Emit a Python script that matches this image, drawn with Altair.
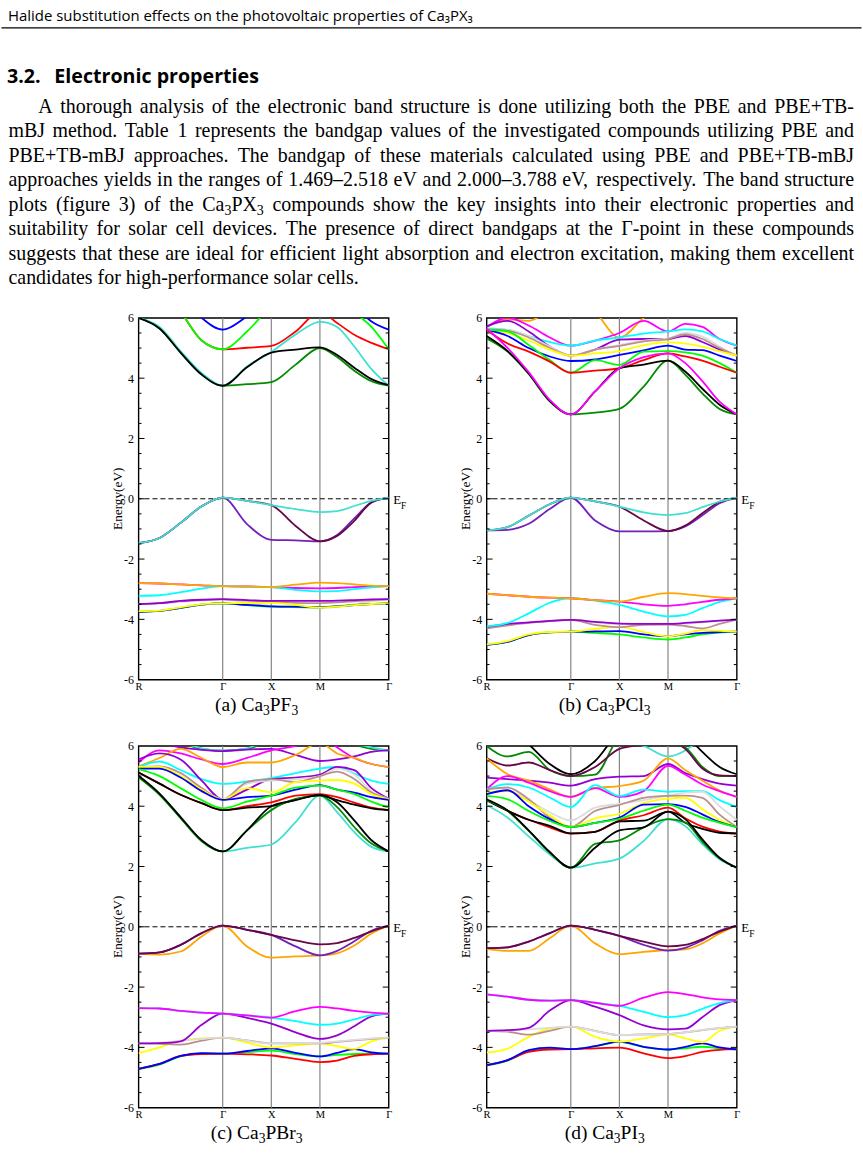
import re
import altair as alt
import pandas as pd

# ---------------------------------------------------------------------------
# k-path sample positions along R-Γ-X-M-Γ (units of 2π/a) and their labels
K = [0.0, 0.433, 0.866, 1.299, 1.732, 2.232, 2.732, 3.232, 3.732, 4.086, 4.439, 4.793, 5.146]
K_SYM = [0.0, 1.732, 2.732, 3.732, 5.146]
K_SYM_LABELS = ["R", "Γ", "X", "M", "Γ"]
K_INNER = [1.732, 2.732, 3.732]

# energy ticks (eV)
E_LABELS = [-6, -4, -2, 0, 2, 4, 6]
E_MAJOR = [-4, -2, 0, 2, 4]
E_MINOR = [-5.5, -5, -4.5, -3.5, -3, -2.5, -1.5, -1, -0.5,
           0.5, 1, 1.5, 2.5, 3, 3.5, 4.5, 5, 5.5]

# xmgrace palette
BLK = "#000000"; RED = "#ff0000"; GRN = "#00ff00"; BLU = "#0000ff"
YEL = "#ffff00"; BRN = "#bc8f8f"; GRY = "#dcdcdc"; VIO = "#9400d3"
CYN = "#00ffff"; MAG = "#ff00ff"; ORN = "#ffa500"; IND = "#7221bc"
MAR = "#670748"; TRQ = "#40e0d0"; DGR = "#008b00"

# ---------------------------------------------------------------------------
# Band energies (eV) at the K sample points, listed in drawing order
A_BANDS = [
    (GRY, [-3.49, -3.47, -3.42, -3.38, -3.34, -3.45, -3.55, -3.6, -3.63, -3.58, -3.5, -3.4, -3.34]),
    (BRN, [-3.49, -3.46, -3.39, -3.36, -3.34, -3.38, -3.42, -3.45, -3.46, -3.44, -3.4, -3.36, -3.34]),
    (GRN, [-3.75, -3.72, -3.62, -3.51, -3.47, -3.53, -3.58, -3.59, -3.6, -3.56, -3.52, -3.49, -3.47]),
    (BLU, [-3.75, -3.72, -3.62, -3.51, -3.47, -3.52, -3.57, -3.58, -3.6, -3.57, -3.53, -3.49, -3.47]),
    (YEL, [-3.73, -3.71, -3.6, -3.5, -3.47, -3.46, -3.45, -3.52, -3.61, -3.58, -3.53, -3.49, -3.47]),
    (VIO, [-3.49, -3.46, -3.39, -3.35, -3.33, -3.36, -3.39, -3.39, -3.39, -3.38, -3.36, -3.34, -3.33]),
    (MAG, [-2.8, -2.81, -2.84, -2.87, -2.9, -2.91, -2.93, -2.96, -2.97, -2.96, -2.93, -2.91, -2.9]),
    (CYN, [-3.22, -3.2, -3.1, -2.98, -2.9, -2.92, -2.93, -3.02, -3.07, -3.06, -3.0, -2.94, -2.9]),
    (ORN, [-2.8, -2.81, -2.84, -2.87, -2.9, -2.91, -2.92, -2.85, -2.78, -2.8, -2.84, -2.88, -2.9]),
    (IND, [-1.47, -1.3, -0.8, -0.25, 0.04, -0.84, -1.36, -1.38, -1.41, -1.2, -0.65, -0.12, 0.04]),
    (MAR, [-1.47, -1.3, -0.8, -0.25, 0.04, -0.07, -0.21, -0.9, -1.41, -1.23, -0.73, -0.12, 0.04]),
    (TRQ, [-1.47, -1.3, -0.8, -0.25, 0.04, -0.07, -0.21, -0.34, -0.44, -0.41, -0.24, -0.07, 0.04]),
    (BLU, [7.5, 7.2, 6.8, 6.0, 5.61, 6.05, 6.6, 7.0, 7.0, 6.8, 6.4, 5.88, 5.61]),
    (RED, [7.5, 7.0, 6.2, 5.25, 4.96, 5.01, 5.07, 5.55, 6.2, 5.83, 5.44, 5.17, 4.96]),
    (GRN, [7.5, 7.0, 6.2, 5.25, 4.96, 5.55, 6.4, 7.0, 7.0, 6.8, 6.2, 5.7, 4.96]),
    (DGR, [6.0, 5.65, 4.85, 4.12, 3.75, 3.8, 3.87, 4.45, 5.0, 4.7, 4.25, 3.9, 3.75]),
    (TRQ, [6.0, 5.7, 4.9, 4.17, 3.75, 4.39, 4.87, 5.45, 5.87, 5.7, 5.05, 4.3, 3.75]),
    (BLK, [6.0, 5.65, 4.85, 4.12, 3.75, 4.36, 4.85, 4.95, 5.02, 4.77, 4.35, 3.97, 3.77]),
]

B_BANDS = [
    (GRN, [-4.85, -4.75, -4.52, -4.43, -4.41, -4.45, -4.5, -4.6, -4.67, -4.6, -4.5, -4.44, -4.41]),
    (BLU, [-4.85, -4.75, -4.52, -4.43, -4.41, -4.4, -4.39, -4.5, -4.56, -4.5, -4.45, -4.42, -4.41]),
    (YEL, [-4.83, -4.72, -4.5, -4.42, -4.41, -4.32, -4.25, -4.42, -4.56, -4.47, -4.36, -4.38, -4.41]),
    (GRY, [-4.3, -4.2, -4.12, -4.06, -4.02, -4.1, -4.16, -4.16, -4.16, -4.14, -4.1, -4.05, -4.01]),
    (BRN, [-4.3, -4.2, -4.12, -4.06, -4.02, -4.18, -4.26, -4.18, -4.17, -4.22, -4.3, -4.15, -4.01]),
    (VIO, [-4.25, -4.15, -4.1, -4.05, -4.02, -4.08, -4.14, -4.15, -4.15, -4.12, -4.08, -4.04, -4.01]),
    (CYN, [-4.23, -4.12, -3.8, -3.45, -3.3, -3.38, -3.52, -3.74, -3.9, -3.85, -3.63, -3.42, -3.3]),
    (MAG, [-3.15, -3.2, -3.25, -3.28, -3.3, -3.36, -3.41, -3.5, -3.55, -3.5, -3.42, -3.35, -3.3]),
    (ORN, [-3.15, -3.2, -3.25, -3.28, -3.3, -3.36, -3.41, -3.25, -3.13, -3.16, -3.22, -3.27, -3.3]),
    (IND, [-1.05, -1.03, -0.83, -0.34, 0.04, -0.72, -1.08, -1.08, -1.07, -0.92, -0.55, -0.15, 0.04]),
    (MAR, [-1.05, -0.94, -0.56, -0.18, 0.04, -0.09, -0.26, -0.72, -1.07, -0.89, -0.48, -0.1, 0.04]),
    (TRQ, [-1.05, -0.94, -0.56, -0.18, 0.04, -0.09, -0.26, -0.45, -0.54, -0.48, -0.28, -0.09, 0.04]),
    (ORN, [5.7, 5.95, 5.9, 6.3, 6.8, 6.2, 5.35, 6.0, 6.6, 6.5, 6.1, 6.4, 6.8]),
    (MAG, [5.7, 6.0, 5.75, 5.35, 5.08, 5.25, 5.5, 5.9, 5.55, 5.8, 5.7, 5.3, 5.08]),
    (CYN, [5.65, 5.6, 5.4, 5.2, 5.08, 5.25, 5.35, 5.48, 5.55, 5.62, 5.55, 5.3, 5.08]),
    (VIO, [5.72, 5.9, 5.55, 5.05, 4.75, 4.95, 5.28, 5.3, 5.3, 5.4, 5.2, 4.95, 4.75]),
    (GRY, [5.62, 5.6, 5.4, 5.05, 4.75, 4.95, 5.1, 5.25, 5.32, 5.5, 5.38, 5.05, 4.75]),
    (BRN, [5.62, 5.58, 5.35, 5.0, 4.75, 4.95, 5.07, 5.22, 5.3, 5.45, 5.3, 5.0, 4.75]),
    (YEL, [5.6, 5.5, 5.25, 4.95, 4.75, 4.82, 4.9, 5.1, 5.2, 5.15, 5.05, 4.9, 4.75]),
    (BLU, [5.6, 5.4, 5.0, 4.72, 4.57, 4.62, 4.77, 4.92, 5.08, 4.95, 4.93, 4.75, 4.57]),
    (GRN, [5.6, 5.55, 5.1, 4.6, 4.18, 4.6, 4.44, 4.88, 4.9, 4.86, 4.75, 4.5, 4.18]),
    (RED, [5.6, 5.15, 4.88, 4.55, 4.18, 4.25, 4.33, 4.6, 4.82, 4.72, 4.58, 4.38, 4.18]),
    (DGR, [5.32, 4.88, 4.14, 3.23, 2.8, 2.86, 2.98, 3.72, 4.58, 4.12, 3.5, 2.98, 2.8]),
    (BLK, [5.4, 4.9, 4.16, 3.25, 2.8, 3.56, 4.33, 4.45, 4.58, 4.22, 3.65, 3.12, 2.8]),
    (MAG, [5.65, 5.0, 4.2, 3.28, 2.8, 3.56, 4.33, 4.7, 4.82, 4.5, 3.9, 3.22, 2.8]),
]

C_BANDS = [
    (GRN, [-4.72, -4.57, -4.3, -4.2, -4.21, -4.16, -4.11, -4.22, -4.3, -4.25, -4.22, -4.21, -4.21]),
    (RED, [-4.71, -4.55, -4.28, -4.22, -4.21, -4.23, -4.27, -4.38, -4.49, -4.44, -4.28, -4.23, -4.21]),
    (BLU, [-4.71, -4.55, -4.28, -4.19, -4.21, -4.12, -4.03, -4.18, -4.3, -4.18, -4.06, -4.17, -4.21]),
    (YEL, [-4.19, -4.0, -3.78, -3.7, -3.68, -3.84, -4.0, -3.93, -3.87, -3.96, -4.05, -3.8, -3.68]),
    (BRN, [-3.87, -3.88, -3.91, -3.78, -3.68, -3.77, -3.87, -3.87, -3.87, -3.82, -3.77, -3.72, -3.68]),
    (GRY, [-3.87, -3.85, -3.78, -3.72, -3.68, -3.78, -3.87, -3.86, -3.85, -3.8, -3.75, -3.7, -3.68]),
    (VIO, [-3.87, -3.86, -3.8, -3.25, -2.88, -3.02, -3.21, -3.5, -3.72, -3.6, -3.3, -2.97, -2.88]),
    (CYN, [-2.7, -2.71, -2.79, -2.85, -2.88, -2.94, -3.01, -3.13, -3.25, -3.21, -3.07, -2.93, -2.88]),
    (MAG, [-2.7, -2.71, -2.79, -2.85, -2.88, -2.94, -3.01, -2.8, -2.66, -2.71, -2.79, -2.85, -2.88]),
    (ORN, [-0.89, -0.92, -0.82, -0.32, 0.04, -0.65, -1.02, -0.98, -0.95, -0.88, -0.62, -0.22, 0.04]),
    (IND, [-0.89, -0.85, -0.6, -0.21, 0.04, -0.1, -0.27, -0.65, -0.95, -0.8, -0.48, -0.13, 0.04]),
    (MAR, [-0.89, -0.85, -0.6, -0.21, 0.04, -0.1, -0.27, -0.45, -0.58, -0.54, -0.37, -0.15, 0.04]),
    (DGR, [6.5, 6.3, 6.1, 5.9, 5.84, 5.9, 6.2, 6.4, 6.5, 6.3, 6.05, 5.9, 5.85]),
    (TRQ, [6.6, 6.4, 6.15, 5.92, 5.84, 5.92, 6.3, 6.5, 6.6, 6.35, 6.1, 5.95, 5.85]),
    (VIO, [6.3, 6.1, 5.95, 5.87, 5.83, 5.88, 5.9, 5.7, 5.5, 5.55, 5.65, 5.8, 5.85]),
    (MAG, [5.45, 5.85, 5.75, 5.55, 5.4, 5.6, 5.85, 6.0, 6.3, 5.95, 5.6, 5.4, 5.3]),
    (ORN, [5.32, 5.6, 5.9, 5.6, 5.3, 5.45, 5.45, 5.7, 6.1, 5.75, 5.6, 5.4, 5.3]),
    (CYN, [5.3, 5.48, 5.2, 4.9, 4.74, 4.82, 4.93, 5.1, 5.25, 5.3, 5.08, 4.85, 4.74]),
    (VIO, [5.55, 5.75, 5.55, 4.85, 4.23, 4.55, 4.9, 4.95, 5.05, 5.3, 5.2, 4.6, 4.25]),
    (GRY, [5.3, 5.3, 5.1, 4.6, 4.23, 4.75, 4.85, 4.9, 5.0, 5.25, 5.05, 4.5, 4.25]),
    (BRN, [5.3, 5.32, 5.1, 4.6, 4.23, 4.8, 4.9, 4.8, 5.0, 5.15, 4.9, 4.45, 4.25]),
    (YEL, [5.3, 5.3, 5.0, 4.55, 4.23, 4.6, 4.46, 4.8, 4.85, 4.87, 4.75, 4.4, 4.23]),
    (BLU, [5.25, 5.25, 4.95, 4.5, 4.21, 4.3, 4.35, 4.55, 4.7, 4.55, 4.45, 4.3, 4.21]),
    (GRN, [5.23, 5.0, 4.6, 4.2, 3.93, 4.15, 4.35, 4.62, 4.68, 4.55, 4.4, 4.15, 3.95]),
    (RED, [5.12, 4.75, 4.38, 4.1, 3.87, 4.0, 4.13, 4.35, 4.4, 4.3, 4.12, 3.95, 3.87]),
    (BLK, [5.12, 4.75, 4.38, 4.1, 3.87, 3.95, 4.0, 4.22, 4.37, 4.2, 4.05, 3.93, 3.87]),
    (TRQ, [5.0, 4.4, 3.62, 2.85, 2.5, 2.62, 2.73, 3.47, 4.35, 3.8, 3.14, 2.65, 2.5]),
    (DGR, [4.96, 4.38, 3.6, 2.84, 2.5, 3.2, 3.87, 4.24, 4.35, 3.97, 3.31, 2.76, 2.5]),
    (BLK, [5.01, 4.42, 3.64, 2.87, 2.5, 3.2, 4.0, 4.2, 4.37, 4.13, 3.53, 2.87, 2.5]),
]

D_BANDS = [
    (GRN, [-4.6, -4.44, -4.12, -4.03, -4.06, -3.97, -3.82, -3.99, -4.07, -4.03, -3.98, -4.03, -4.07]),
    (RED, [-4.59, -4.42, -4.15, -4.07, -4.06, -4.03, -4.01, -4.2, -4.36, -4.29, -4.15, -4.08, -4.06]),
    (BLU, [-4.59, -4.42, -4.09, -4.01, -4.06, -3.96, -3.81, -3.98, -4.07, -3.98, -3.87, -4.0, -4.07]),
    (YEL, [-4.17, -4.04, -3.65, -3.38, -3.31, -3.65, -3.81, -3.7, -3.58, -3.7, -3.83, -3.45, -3.31]),
    (BRN, [-3.45, -3.48, -3.58, -3.45, -3.31, -3.45, -3.59, -3.57, -3.56, -3.5, -3.43, -3.36, -3.31]),
    (GRY, [-3.45, -3.44, -3.4, -3.35, -3.31, -3.46, -3.59, -3.58, -3.56, -3.5, -3.42, -3.36, -3.31]),
    (VIO, [-3.45, -3.43, -3.35, -2.78, -2.43, -2.65, -2.93, -3.27, -3.4, -3.38, -3.0, -2.6, -2.43]),
    (CYN, [-2.24, -2.32, -2.42, -2.45, -2.43, -2.52, -2.62, -2.82, -3.0, -2.93, -2.72, -2.53, -2.43]),
    (MAG, [-2.24, -2.32, -2.42, -2.45, -2.43, -2.52, -2.62, -2.35, -2.17, -2.23, -2.34, -2.41, -2.43]),
    (ORN, [-0.73, -0.8, -0.8, -0.38, 0.04, -0.55, -0.91, -0.83, -0.77, -0.75, -0.55, -0.22, 0.04]),
    (IND, [-0.71, -0.68, -0.49, -0.21, 0.04, -0.1, -0.3, -0.6, -0.79, -0.7, -0.45, -0.13, 0.04]),
    (MAR, [-0.71, -0.68, -0.49, -0.21, 0.04, -0.1, -0.3, -0.49, -0.65, -0.6, -0.41, -0.16, 0.04]),
    (BLK, [7.0, 6.6, 6.05, 5.4, 5.06, 5.5, 6.5, 7.0, 7.0, 6.4, 5.8, 5.3, 5.06]),
    (TRQ, [7.0, 7.0, 7.0, 7.0, 7.0, 6.5, 6.2, 6.0, 5.65, 5.85, 6.3, 7.0, 7.0]),
    (DGR, [6.0, 5.65, 5.8, 5.2, 5.0, 5.05, 6.3, 6.6, 6.1, 5.95, 5.3, 5.0, 5.0]),
    (MAR, [5.6, 5.35, 5.45, 5.2, 5.0, 5.3, 5.9, 6.05, 6.2, 5.9, 5.25, 5.02, 5.0]),
    (VIO, [4.95, 4.9, 4.85, 4.78, 4.68, 4.9, 4.98, 5.0, 5.4, 5.1, 4.9, 4.75, 4.68]),
    (ORN, [5.59, 5.06, 4.85, 4.56, 4.31, 4.6, 4.67, 4.85, 5.59, 5.2, 4.85, 4.52, 4.31]),
    (MAG, [4.56, 5.0, 4.78, 4.5, 4.31, 4.6, 4.31, 4.5, 5.34, 5.05, 4.72, 4.5, 4.31]),
    (CYN, [4.56, 4.73, 4.62, 4.29, 3.97, 4.7, 4.34, 4.55, 4.48, 4.5, 4.5, 4.2, 3.97]),
    (GRY, [4.45, 4.52, 4.2, 3.8, 3.53, 3.95, 4.08, 4.2, 4.35, 4.45, 4.48, 4.0, 3.55]),
    (BRN, [4.56, 4.62, 4.23, 3.62, 3.31, 3.84, 4.04, 4.28, 4.34, 4.35, 4.28, 3.72, 3.31]),
    (YEL, [4.45, 4.5, 4.15, 3.7, 3.31, 3.6, 3.75, 4.1, 4.25, 4.28, 3.9, 3.55, 3.31]),
    (BLU, [4.4, 4.53, 4.0, 3.57, 3.31, 3.45, 3.62, 4.05, 4.07, 3.98, 3.73, 3.47, 3.31]),
    (GRN, [4.34, 4.23, 3.84, 3.51, 3.31, 3.45, 3.58, 3.85, 4.05, 3.85, 3.62, 3.45, 3.31]),
    (RED, [4.2, 3.85, 3.55, 3.3, 3.09, 3.15, 3.52, 3.7, 3.95, 3.6, 3.32, 3.16, 3.09]),
    (BLK, [4.2, 3.85, 3.55, 3.35, 3.1, 3.15, 3.5, 3.52, 3.82, 3.45, 3.25, 3.12, 3.1]),
    (TRQ, [4.04, 3.62, 3.0, 2.4, 1.96, 2.1, 2.26, 2.85, 3.57, 3.34, 2.74, 2.24, 1.96]),
    (DGR, [4.2, 3.84, 3.18, 2.46, 1.96, 2.75, 2.87, 3.3, 3.57, 3.46, 2.82, 2.27, 1.96]),
    (BLK, [4.23, 3.86, 3.2, 2.48, 1.96, 2.62, 3.2, 3.3, 3.82, 3.57, 2.9, 2.29, 1.96]),
]

CAPTIONS = ["(a) Ca_{3}PF_{3}", "(b) Ca_{3}PCl_{3}", "(c) Ca_{3}PBr_{3}", "(d) Ca_{3}PI_{3}"]

HEADER = "Halide substitution effects on the photovoltaic properties of Ca₃PX₃"
SECTION_NUM = "3.2."
SECTION_TITLE = "Electronic properties"
PARAGRAPH = [
    "A thorough analysis of the electronic band structure is done utilizing both the PBE and PBE+TB-",
    "mBJ method. Table 1 represents the bandgap values of the investigated compounds utilizing PBE and",
    "PBE+TB-mBJ approaches. The bandgap of these materials calculated using PBE and PBE+TB-mBJ",
    "approaches yields in the ranges of 1.469–2.518 eV and 2.000–3.788 eV, respectively. The band structure",
    "plots (figure 3) of the Ca_{3}PX_{3} compounds show the key insights into their electronic properties and",
    "suitability for solar cell devices. The presence of direct bandgaps at the Γ-point in these compounds",
    "suggests that these are ideal for efficient light absorption and electron excitation, making them excellent",
    "candidates for high-performance solar cells.",
]

# ---------------------------------------------------------------------------
# Layout constants (pixels)
W, H = 251, 363                 # plot area of each panel
COL_GAP, ROW_GAP = 98.3, 66.5   # distance between plot areas
OX, OY = 137.5, 316             # page position of the first panel's plot area
PAGE_W, PAGE_H = 863, 1155
SERIF = "Liberation Serif"
SANS = "Open Sans"
BODY = 20.0                     # body text size
SUB = 0.7                       # subscript scale

# Times-compatible advance widths (1/1000 em), used to justify serif lines
TW = {" ": 250, "(": 333, ")": 333, "+": 564, ",": 250, "-": 333, ".": 250,
      ":": 278, "–": 500, "Γ": 578}
TW.update({d: 500 for d in "0123456789"})
TW.update(dict(zip("ABCDEFGHIJKLMNOPQRSTUVWXYZ",
                   [722, 667, 667, 722, 611, 556, 722, 722, 333, 389, 722, 611, 889,
                    722, 722, 556, 722, 667, 556, 611, 722, 722, 944, 722, 722, 611])))
TW.update(dict(zip("abcdefghijklmnopqrstuvwxyz",
                   [444, 500, 444, 500, 444, 333, 500, 500, 278, 278, 500, 278, 778,
                    500, 500, 500, 500, 333, 389, 278, 500, 500, 722, 500, 500, 444])))


def seg_width(text, size):
    return sum(TW.get(ch, 500) for ch in text) * size / 1000.0


def parse_word(word):
    segs = []
    for part in re.split(r"(_\{[^}]*\})", word):
        if not part:
            continue
        if part.startswith("_{"):
            segs.append((part[2:-1], True))
        else:
            segs.append((part, False))
    return segs


def word_width(segs, size):
    return sum(seg_width(t, size * SUB if sub else size) for t, sub in segs)


def place_word(rows, segs, x, y, size):
    for t, sub in segs:
        s = size * SUB if sub else size
        rows.append({"t": t, "x": x, "y": y + (0.22 * size if sub else 0.0), "s": s})
        x += seg_width(t, s)


def layout_line(rows, text, x0, x1, y, size, justify):
    words = [parse_word(w) for w in text.split(" ")]
    widths = [word_width(w, size) for w in words]
    if justify and len(words) > 1:
        gap = (x1 - x0 - sum(widths)) / (len(words) - 1)
    else:
        gap = TW[" "] * size / 1000.0
    x = x0
    for segs, wd in zip(words, widths):
        place_word(rows, segs, x, y, size)
        x += wd + gap


def layout_centered(rows, text, cx, y, size):
    words = [parse_word(w) for w in text.split(" ")]
    total = sum(word_width(w, size) for w in words) + TW[" "] * size / 1000.0 * (len(words) - 1)
    layout_line(rows, text, cx - total / 2.0, cx + total / 2.0, y, size, False)


def text_layer(rows, font, weight="normal"):
    return alt.Chart(pd.DataFrame(rows)).mark_text(
        font=font, fontWeight=weight, align="left", baseline="alphabetic", color="black"
    ).encode(
        x=alt.X("x:Q", scale=None, axis=None),
        y=alt.Y("y:Q", scale=None, axis=None),
        size=alt.Size("s:Q", scale=None, legend=None),
        text=alt.Text("t:N"),
    )


XS = alt.Scale(domain=[K[0], K[-1]], nice=False, zero=False)
YS = alt.Scale(domain=[-6, 6], nice=False, zero=False)

k_label_expr = (
    "datum.value < 1 ? 'R' : datum.value < 2 ? 'Γ' : datum.value < 3 ? 'X' : "
    "datum.value < 4 ? 'M' : 'Γ'"
)
e_label_expr = "datum.value < 0 ? '-' + (-datum.value) : '' + datum.value"

# one shared axis definition per channel, repeated on every layer using it
XAXIS = alt.Axis(
    orient="bottom", values=K_SYM, labelExpr=k_label_expr, title=None, ticks=False,
    domain=False, grid=False, labelFont=SERIF, labelFontSize=10.5,
    labelColor="black", labelPadding=2, labelFlush=False, labelOverlap=False,
)
YAXIS = alt.Axis(
    orient="left", values=E_LABELS, labelExpr=e_label_expr, title=None, ticks=False,
    domain=False, grid=False, labelFont=SERIF, labelFontSize=12,
    labelColor="black", labelPadding=5, labelOverlap=False, labelFlush=False,
)


def panel(bands, caption, tag):
    records = []
    for i, (col, vals) in enumerate(bands):
        for k, e in zip(K, vals):
            records.append({"k": k, "E": e, "band": f"{tag}{i:02d}", "c": col})
    df = pd.DataFrame(records)

    vlines = alt.Chart(pd.DataFrame({"k": K_INNER})).mark_rule(
        color="#858585", strokeWidth=1.2
    ).encode(x=alt.X("k:Q", scale=XS, axis=XAXIS))

    fermi = alt.Chart(pd.DataFrame({"E": [0]})).mark_rule(
        color="black", strokeWidth=1, strokeDash=[5, 3]
    ).encode(y=alt.Y("E:Q", scale=YS, axis=YAXIS))

    lines = alt.Chart(df).mark_line(
        strokeWidth=1.8, interpolate="monotone", clip=True
    ).encode(
        x=alt.X("k:Q", scale=XS, axis=XAXIS),
        y=alt.Y("E:Q", scale=YS, axis=YAXIS),
        color=alt.Color("c:N", scale=None),
        detail="band:N",
    )

    major = pd.DataFrame({"E": E_MAJOR})
    minor = pd.DataFrame({"E": E_MINOR})
    tick_layers = []
    for dfx, ln in ((major, 6), (minor, 3)):
        for xa, xb in ((0, ln), (W - ln, W)):
            tick_layers.append(
                alt.Chart(dfx).mark_rule(color="black", strokeWidth=1).encode(
                    y=alt.Y("E:Q", scale=YS, axis=YAXIS),
                    x=alt.value(xa), x2=alt.value(xb),
                )
            )

    rows = [
        {"t": "E", "x": W + 4.5, "y": H / 2 + 5, "s": 13},
        {"t": "F", "x": W + 12.5, "y": H / 2 + 10, "s": 9.5},
    ]
    layout_centered(rows, caption, W / 2 - 7, H + 31, 19.5)
    labels = text_layer(rows, SERIF)

    ytitle = alt.Chart(pd.DataFrame({"t": ["Energy(eV)"]})).mark_text(
        font=SERIF, fontSize=13.3, angle=270, align="center", baseline="middle",
        color="black"
    ).encode(x=alt.value(-21), y=alt.value(H / 2), text="t:N")

    return [vlines, fermi, lines] + tick_layers + [labels, ytitle]


# ---------------------------------------------------------------------------
# Page text above the figure (drawn in the first panel's coordinates)
one = pd.DataFrame({"a": [0]})
page_box = alt.Chart(one).mark_rect(opacity=0).encode(
    x=alt.value(-OX), x2=alt.value(PAGE_W - OX),
    y=alt.value(-OY), y2=alt.value(PAGE_H - OY),
)
header_rule = alt.Chart(one).mark_rule(color="black", strokeWidth=1.2).encode(
    x=alt.value(-OX), x2=alt.value(PAGE_W - OX), y=alt.value(25 - OY)
)
header = alt.Chart(one).mark_text(
    font=SANS, fontSize=15, align="left", baseline="alphabetic", color="black"
).encode(x=alt.value(6.5 - OX), y=alt.value(18.5 - OY), text=alt.value(HEADER))

heading = text_layer(
    [{"t": SECTION_NUM, "x": 5.5 - OX, "y": 80 - OY, "s": 19.7},
     {"t": SECTION_TITLE, "x": 53 - OX, "y": 80 - OY, "s": 19.7}],
    SANS, "bold",
)

para_rows = []
for i, line in enumerate(PARAGRAPH):
    x0 = 37 if i == 0 else 7
    layout_line(para_rows, line, x0, 855.5, 110 + 24.6 * i, BODY, i < len(PARAGRAPH) - 1)
for r in para_rows:
    r["x"] -= OX
    r["y"] -= OY
paragraph = text_layer(para_rows, SERIF)

page_layers = [page_box, header_rule, header, heading, paragraph]

pa = alt.layer(*page_layers, *panel(A_BANDS, CAPTIONS[0], "a")).properties(width=W, height=H)
pb = alt.layer(*panel(B_BANDS, CAPTIONS[1], "b")).properties(width=W, height=H)
pc = alt.layer(*panel(C_BANDS, CAPTIONS[2], "c")).properties(width=W, height=H)
pd_ = alt.layer(*panel(D_BANDS, CAPTIONS[3], "d")).properties(width=W, height=H)

chart = alt.concat(
    pa, pb, pc, pd_, columns=2, bounds="flush",
    spacing=alt.RowColnumber(row=ROW_GAP, column=COL_GAP),
).properties(
    padding=0, background="white"
).configure_view(
    stroke="black", strokeWidth=1.4
)

chart.save("out.html", embed_options={"renderer": "svg", "actions": False})
